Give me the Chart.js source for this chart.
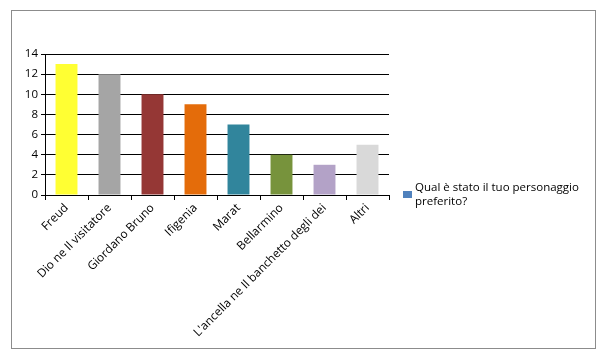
<!DOCTYPE html>
<html>
<head>
<meta charset="utf-8">
<script src="https://cdn.jsdelivr.net/npm/chart.js"></script>
<style>
  html, body { margin: 0; padding: 0; background: white; }
  #wrap { width: 608px; height: 359px; position: relative; }
</style>
</head>
<body>
<div id="wrap"><canvas id="myChart" width="608" height="359"></canvas></div>
<script>
const personaggi = ["Freud", "Dio ne Il visitatore", "Giordano Bruno", "Ifigenia", "Marat", "Bellarmino", "L'ancella ne Il banchetto degli dei", "Altri"];
const voti = [13, 12, 10, 9, 7, 4, 3, 5];
const colori = ["#FFFF33", "#A5A5A5", "#953735", "#E46C0A", "#31859C", "#77933C", "#B3A2C7", "#D9D9D9"];
const titoloLegenda = ["Qual è stato il tuo personaggio", "preferito?"];
const coloreLegenda = "#4F81BD";

const fontBase = "'Open Sans', 'Noto Sans', sans-serif";

// bordo esterno e legenda disegnati a mano
const cornice = {
    id: "cornice",
    afterDraw(chart) {
        const ctx = chart.ctx;
        ctx.save();
        ctx.strokeStyle = "#8c8c8c";
        ctx.lineWidth = 1;
        ctx.strokeRect(11.5, 10.5, 584, 338);
        ctx.fillStyle = coloreLegenda;
        ctx.fillRect(403, 191, 9, 7);
        ctx.fillStyle = "#000";
        ctx.font = "11.5px " + fontBase;
        ctx.textBaseline = "alphabetic";
        titoloLegenda.forEach((riga, i) => {
            ctx.fillText(riga, 415, 191 + i * 14);
        });
        ctx.restore();
    }
};

const data = {
    labels: personaggi,
    datasets: [{
        label: titoloLegenda.join(" "),
        data: voti,
        backgroundColor: colori,
        borderWidth: 0,
        barPercentage: 0.51,
        categoryPercentage: 1
    }]
};

const config = {
    type: "bar",
    data,
    options: {
        responsive: false,
        animation: false,
        layout: { padding: { left: 0, top: 54, right: 219, bottom: 0 } },
        plugins: {
            legend: { display: false },
            tooltip: { enabled: false }
        },
        scales: {
            y: {
                min: 0,
                max: 14,
                ticks: { stepSize: 2, color: "#000", font: { size: 11.5, family: fontBase }, padding: 3 },
                grid: { color: "#000", lineWidth: 1, tickLength: 4 },
                border: { color: "#000" },
                afterFit(scale) { scale.width = 45; }
            },
            x: {
                ticks: { color: "#000", font: { size: 11.8, family: fontBase }, minRotation: 45, maxRotation: 45, padding: 1 },
                grid: { color: "#000", drawOnChartArea: false, tickLength: 5, offset: true },
                border: { color: "#000" },
                afterFit(scale) { scale.height = 164; }
            }
        }
    },
    plugins: [cornice]
};

const ctx = document.getElementById("myChart").getContext("2d");
const myChart = new Chart(ctx, config);
</script>
</body>
</html>
